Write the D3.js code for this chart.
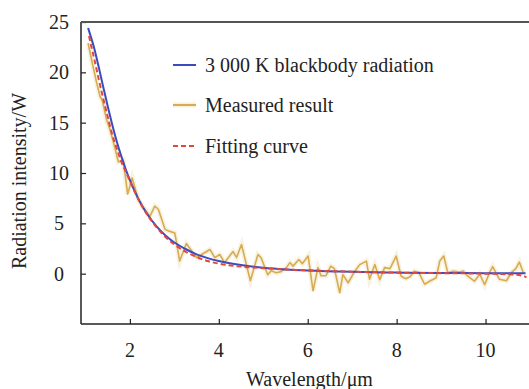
<!DOCTYPE html>
<html><head><meta charset="utf-8">
<script src="https://cdn.jsdelivr.net/npm/d3@7"></script>
</head><body style="margin:0">
<svg id="c" width="529" height="389"></svg>
<script>
const blueX = [1.06,1.1,1.2,1.3,1.4,1.5,1.6,1.7,1.8,1.9,2.0,2.2,2.4,2.6,2.8,3.0,3.25,3.5,3.75,4.0,4.5,5.0,5.5,6.0,7.0,8.0,9.0,10.0,10.9];
const blueY = [24.4,23.85,22.35,20.5,18.55,16.65,14.85,13.2,11.75,10.45,9.3,7.35,5.85,4.7,3.8,3.1,2.45,1.92,1.54,1.25,0.85,0.59,0.42,0.31,0.18,0.11,0.07,0.05,0.03];
const redX = [1.08,1.1,1.2,1.3,1.4,1.5,1.6,1.7,1.8,1.9,2.0,2.2,2.4,2.6,2.8,3.0,3.25,3.5,3.75,4.0,4.5,5.0,5.5,6.0,7.0,8.0,9.0,10.0,10.7,10.92];
const redY = [23.6,23.2,21.3,19.3,17.4,15.6,13.85,12.5,11.2,10.2,9.2,7.3,5.8,4.6,3.65,2.9,2.2,1.65,1.25,1.0,0.7,0.55,0.42,0.33,0.2,0.1,0.05,0.0,-0.1,-0.35];
const measX = [1.06,1.15,1.25,1.33,1.38,1.47,1.56,1.65,1.74,1.85,1.95,2.05,2.19,2.3,2.45,2.56,2.64,2.79,2.9,3.01,3.12,3.27,3.35,3.5,3.65,3.8,3.91,4.02,4.13,4.32,4.4,4.51,4.62,4.71,4.88,4.95,5.1,5.18,5.29,5.4,5.52,5.6,5.67,5.8,5.88,6.01,6.12,6.23,6.3,6.41,6.52,6.6,6.72,6.79,6.91,7.06,7.17,7.32,7.39,7.51,7.62,7.73,7.85,7.99,8.1,8.21,8.3,8.4,8.5,8.63,8.74,8.89,8.97,9.06,9.15,9.27,9.4,9.5,9.6,9.75,9.87,9.98,10.09,10.16,10.31,10.47,10.58,10.68,10.76,10.85];
const measY = [22.9,21.0,19.0,17.6,17.2,15.4,14.2,12.7,11.1,11.3,7.9,9.5,7.35,6.6,5.7,6.7,6.4,4.4,4.2,4.05,1.25,3.0,2.5,1.6,2.0,2.4,1.6,1.9,1.1,2.2,1.6,2.9,0.9,-0.7,1.9,1.6,-0.1,0.3,0.1,0.2,0.6,1.1,0.75,1.4,1.0,1.75,-1.7,0.6,-0.2,-0.2,0.75,0.5,-1.9,-0.1,-0.9,0.25,0.9,1.25,-0.55,0.9,-0.6,0.6,0.5,1.75,-0.25,-0.5,-0.3,0.25,0.1,-1.05,-0.75,-0.4,1.25,1.75,0.1,0.25,0.15,0.25,-0.25,-0.75,-0.05,-1.1,0.1,0.7,-0.55,-0.7,0.1,0.5,1.15,0.1];
const xTicks = [2,4,6,8,10];
const yTicks = [0,5,10,15,20,25];
const legendLabels = ["3 000 K blackbody radiation","Measured result","Fitting curve"];

const svg = d3.select("#c");
const L = 81, R = 530, T = 22, B = 324;
const x = d3.scaleLinear().domain([0.9, 11.0]).range([L, R]);
const y = d3.scaleLinear().domain([-5, 25]).range([B, T]);
const font = "Times New Roman";
const C = {blue:"#3b4cc0", gold:"#d7ab52", red:"#e2473f", axis:"#222"};

// lines first
const mk = (xs,ys)=>xs.map((v,i)=>[v,ys[i]]);
const smooth = d3.line().x(d=>x(d[0])).y(d=>y(d[1])).curve(d3.curveMonotoneX);
const lin = d3.line().x(d=>x(d[0])).y(d=>y(d[1]));
const meas = mk(measX,measY);
svg.append("path").attr("d",lin(meas)).attr("fill","none").attr("stroke","#efe3bb").attr("stroke-width",5).attr("opacity",0.45);
svg.append("path").attr("d",lin(meas)).attr("fill","none").attr("stroke",C.gold).attr("stroke-width",1.6).attr("stroke-linejoin","round");
svg.append("path").attr("d",smooth(mk(blueX,blueY))).attr("fill","none").attr("stroke",C.blue).attr("stroke-width",2);
svg.append("path").attr("d",smooth(mk(redX,redY))).attr("fill","none").attr("stroke",C.red).attr("stroke-width",2).attr("stroke-dasharray","5,3");

// axes
const ax = svg.append("g").attr("transform",`translate(0,${B})`)
  .call(d3.axisBottom(x).tickValues(xTicks).tickSize(-5).tickPadding(18).tickSizeOuter(0));
const ay = svg.append("g").attr("transform",`translate(${L},0)`)
  .call(d3.axisLeft(y).tickValues(yTicks).tickSize(-5).tickPadding(14).tickSizeOuter(0));
[ax,ay].forEach(g=>{
  g.select(".domain").attr("stroke",C.axis).attr("stroke-width",1.5);
  g.selectAll(".tick line").attr("stroke",C.axis).attr("stroke-width",1.2);
});
ax.select(".domain").attr("d",`M${L},0H${R}`);
ay.select(".domain").attr("d",`M0,${T}V${B}`);
// tick labels as plain svg texts
ax.selectAll(".tick text").remove();
ay.selectAll(".tick text").remove();
xTicks.forEach(v=>svg.append("text").attr("x",x(v)).attr("y",B+33).attr("text-anchor","middle")
  .style("font-family",font).attr("font-size",20).attr("fill","#222").text(v));
yTicks.forEach(v=>svg.append("text").attr("x",L-22).attr("y",y(v)+7).attr("text-anchor","middle")
  .style("font-family",font).attr("font-size",20).attr("fill","#222").text(v));
svg.append("line").attr("x1",L).attr("x2",R).attr("y1",T).attr("y2",T)
  .attr("stroke","#555").attr("stroke-width",2);

// legend
const ly = [65,105,146];
const styles = [{c:C.blue,d:null},{c:C.gold,d:null},{c:C.red,d:"5,3"}];
legendLabels.forEach((t,i)=>{
  if(i===1) svg.append("line").attr("x1",173).attr("x2",196).attr("y1",ly[i]).attr("y2",ly[i]).attr("stroke","#efe3bb").attr("stroke-width",5).attr("opacity",0.5);
  svg.append("line").attr("x1",173).attr("x2",196).attr("y1",ly[i]).attr("y2",ly[i])
    .attr("stroke",styles[i].c).attr("stroke-width",2).attr("stroke-dasharray",styles[i].d);
  svg.append("text").attr("x",205).attr("y",ly[i]+7).style("font-family",font)
    .attr("font-size",20).attr("fill","#222").text(t);
});

// axis titles
svg.append("text").attr("x",(L+R)/2+4).attr("y",386).attr("text-anchor","middle")
  .style("font-family",font).attr("font-size",20).attr("fill","#222").text("Wavelength/μm");
svg.append("text").attr("transform",`translate(26,${y(10)+8}) rotate(-90)`).attr("text-anchor","middle")
  .style("font-family",font).attr("font-size",20).attr("fill","#222").text("Radiation intensity/W");
</script>
</body></html>
